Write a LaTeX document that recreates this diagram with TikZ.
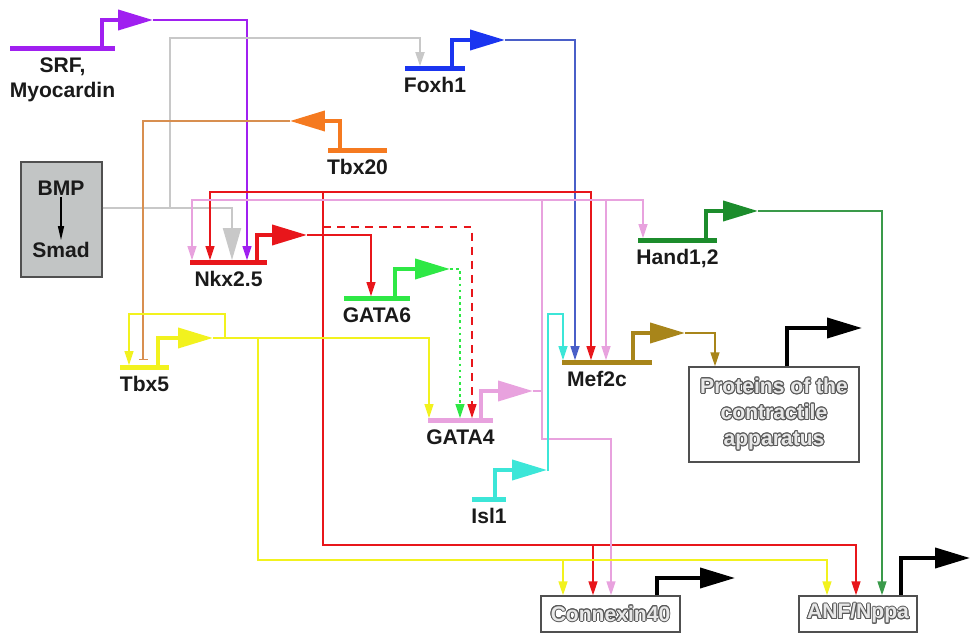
\documentclass[tikz,border=0pt]{standalone}
\usepackage{fontspec}
\setsansfont{Liberation Sans}
\usepackage[copies]{contour}
\contourlength{0.55pt}
\usetikzlibrary{positioning,arrows.meta,calc}
\definecolor{ink}      {HTML}{1A1A1A}
\definecolor{srfc}     {HTML}{A020F0}
\definecolor{foxc}     {HTML}{1A35F0}
\definecolor{foxthin}  {HTML}{4A5FC8}
\definecolor{tbxc}     {HTML}{F57A20}
\definecolor{tbxthin}  {HTML}{D88F50}
\definecolor{nkxc}     {HTML}{E8161B}
\definecolor{gsixc}    {HTML}{2EE845}
\definecolor{handc}    {HTML}{1C8C2C}
\definecolor{handthin} {HTML}{3A9A4A}
\definecolor{tbfivec}  {HTML}{F2F21E}
\definecolor{gfourc}   {HTML}{E8A2DE}
\definecolor{islc}     {HTML}{3CE6D8}
\definecolor{mefc}     {HTML}{A8851A}
\definecolor{bmpline}  {HTML}{C8C8C8}
\definecolor{bmpfill}  {HTML}{C2C5C5}
\definecolor{boxline}  {HTML}{505050}
\definecolor{hollowin} {HTML}{E8E8E8}
\definecolor{hollowout}{HTML}{5A5A5A}
\tikzset{
  every node/.style={font=\sffamily\bfseries\fontsize{12}{14.2}\selectfont, text=ink},
  % --- genes and boxes
  gbar/.style  = {fill=#1, draw=none, inner sep=0pt, minimum height=0.1cm},
  lbl/.style   = {align=center, inner sep=3pt},
  box/.style   = {draw=boxline, line width=0.8pt, fill=white, align=center, inner sep=2pt},
  hollow/.style= {text=hollowin, font=\sffamily\bfseries\fontsize{12}{14.8}\selectfont},
  % --- edges
  prom/.style  = {draw=#1, line width=2.2pt, -{Triangle[length=0.7cm,width=0.4cm]}},
  ar/.style    = {draw=#1, line width=0.8pt, -{Triangle[length=0.28cm,width=0.18cm]}},
  inh/.style   = {draw=#1, line width=0.8pt, -{Bar[width=0.18cm]}, shorten >=0.1cm},
}
\newcommand{\hol}[1]{\contour{hollowout}{#1}}
\begin{document}
\begin{tikzpicture}[x=0.02cm, y=-0.02cm]
  \useasboundingbox (0,0) rectangle (971,634);

  % --- gene bars
  \node[gbar=srfc, minimum width=2.1cm]     (srf)   at (62.5,49)   {};
  \node[gbar=foxc, minimum width=1.2cm]     (foxh)  at (435,69)    {};
  \node[gbar=tbxc, minimum width=1.18cm]    (tbx20) at (357.5,151) {};
  \node[gbar=nkxc, minimum width=1.54cm]    (nkx)   at (228.5,263) {};
  \node[gbar=gsixc, minimum width=1.32cm]   (gata6) at (377,299)   {};
  \node[gbar=handc, minimum width=1.58cm]   (hand)  at (677.5,241) {};
  \node[gbar=tbfivec, minimum width=0.98cm] (tbx5)  at (144.5,368) {};
  \node[gbar=gfourc, minimum width=1.3cm]   (gata4) at (460.5,421) {};
  \node[gbar=islc, minimum width=0.68cm]    (isl)   at (489,500)   {};
  \node[gbar=mefc, minimum width=1.8cm]     (mef)   at (607,363)   {};

  \node[lbl, below=0pt of srf]   (srfl)   {SRF,\\Myocardin};
  \node[lbl, below=0pt of foxh]  (foxhl)  {Foxh1};
  \node[lbl, below=0pt of tbx20] (tbx20l) {Tbx20};
  \node[lbl, below=0pt of nkx]   (nkxl)   {Nkx2.5};
  \node[lbl, below=0pt of gata6] (gata6l) {GATA6};
  \node[lbl, below=0pt of hand]  (handl)  {Hand1,2};
  \node[lbl, below=0pt of tbx5]  (tbx5l)  {Tbx5};
  \node[lbl, below=0pt of gata4] (gata4l) {GATA4};
  \node[lbl, below=0pt of isl]   (isll)   {Isl1};
  \node[lbl, below=0pt of mef, xshift=-0.2cm] (mefl) {Mef2c};

  % --- boxes
  \node[box, fill=bmpfill, minimum width=1.62cm, minimum height=2.3cm] (bmpbox) at (61.5,219.5) {};
  \node[inner sep=1pt] (bmp)  at (61,188) {BMP};
  \node[inner sep=1pt] (smad) at (61,250) {Smad};
  \draw[-{Triangle[length=0.28cm,width=0.12cm]}, line width=0.8pt] (bmp) -- (smad);

  \node[box, hollow, minimum width=3.4cm, minimum height=1.9cm] (prot) at (774,414.5)
    {\hol{Proteins of the}\\\hol{contractile}\\\hol{apparatus}};
  \node[box, hollow, minimum width=2.78cm, minimum height=0.72cm] (cx)  at (610.5,614) {\hol{Connexin40}};
  \node[box, hollow, minimum width=2.36cm, minimum height=0.72cm] (anf) at (858,614)   {\hol{ANF/Nppa}};

  % --- promoters
  \coordinate (srfout)  at (153,20);
  \coordinate (foxout)  at (505,40);
  \coordinate (tbx20out) at (290,121);
  \coordinate (nkxout)  at (307,235);
  \coordinate (gata6out) at (450,269);
  \coordinate (handout) at (758,211);
  \coordinate (tbx5out) at (213,338);
  \coordinate (gata4out) at (533,391);
  \coordinate (islout)  at (547,470);
  \coordinate (mefout)  at (685,333);
  \coordinate (protout) at (862,328);
  \coordinate (cxout)   at (735,578);
  \coordinate (anfout)  at (970,558);
  \coordinate (bmpout)  at (bmpbox.east |- 0,208);

  % --- connectors
  \draw[ar=srfc] (srfout) -| (247,0 |- nkx.north);
  \draw[ar=bmpline, line width=1.1pt, -{Triangle[length=0.64cm,width=0.36cm]}] (bmpout) -| (232,0 |- nkx.north);
  \draw[ar=bmpline, line width=1.1pt] (170,208) |- (420,38) -- (420,0 |- foxh.north);
  \draw[ar=foxthin] (foxout) -| (575,0 |- mef.north);
  \draw[inh=tbxthin] (tbx20out) -| (143,0 |- tbx5.north);

  \draw[ar=nkxc] (nkxout) -| (371,0 |- gata6.north);
  \draw[ar=nkxc] (323,192) -| (210,0 |- nkx.north);
  \draw[ar=nkxc] (323,192) -| (591,0 |- mef.north);
  \draw[ar=nkxc] (323,192) |- (856,545) -- (856,0 |- anf.north);
  \draw[ar=nkxc] (593,545) -- (593,0 |- cx.north);
  \draw[ar=nkxc, dash pattern=on 4.5pt off 3.5pt] (323,227) -| (472,0 |- gata4.north);

  \draw[ar=gfourc] (gata4out) -| (542,200) -| (192,0 |- nkx.north);
  \draw[ar=gfourc] (542,200) -| (643,0 |- hand.north);
  \draw[ar=gfourc] (606,200) -- (606,0 |- mef.north);
  \draw[ar=gfourc] (542,391) |- (611,439) -- (611,0 |- cx.north);

  \draw[ar=gsixc, dash pattern=on 1.5pt off 2pt] (gata6out) -| (460,0 |- gata4.north);

  \draw[ar=tbfivec] (tbx5out) -| (429,0 |- gata4.north);
  \draw[ar=tbfivec] (225,338) |- (129,314) -- (129,0 |- tbx5.north);
  \draw[ar=tbfivec] (258,338) |- (827,560) -- (827,0 |- anf.north);
  \draw[ar=tbfivec] (563,560) -- (563,0 |- cx.north);

  \draw[ar=islc] (islout) -| (548,314) -| (563,0 |- mef.north);
  \draw[ar=mefc] (mefout) -| (715,0 |- prot.north);
  \draw[ar=handthin] (handout) -| (882,0 |- anf.north);

  % --- promoter arrows
  \draw[prom=srfc]    (102,0 |- srf)   |- (srfout);
  \draw[prom=foxc]    (452,0 |- foxh)  |- (foxout);
  \draw[prom=tbxc]    (340,0 |- tbx20) |- (tbx20out);
  \draw[prom=nkxc]    (257,0 |- nkx)   |- (nkxout);
  \draw[prom=gsixc]   (395,0 |- gata6) |- (gata6out);
  \draw[prom=handc]   (706,0 |- hand)  |- (handout);
  \draw[prom=tbfivec] (158,0 |- tbx5)  |- (tbx5out);
  \draw[prom=gfourc]  (481,0 |- gata4) |- (gata4out);
  \draw[prom=islc]    (495,0 |- isl)   |- (islout);
  \draw[prom=mefc]    (633,0 |- mef)   |- (mefout);
  \draw[prom=black]   (787,0 |- prot.north) |- (protout);
  \draw[prom=black]   (657,0 |- cx.north)   |- (cxout);
  \draw[prom=black]   (901,0 |- anf.north)  |- (anfout);
\end{tikzpicture}
\end{document}
